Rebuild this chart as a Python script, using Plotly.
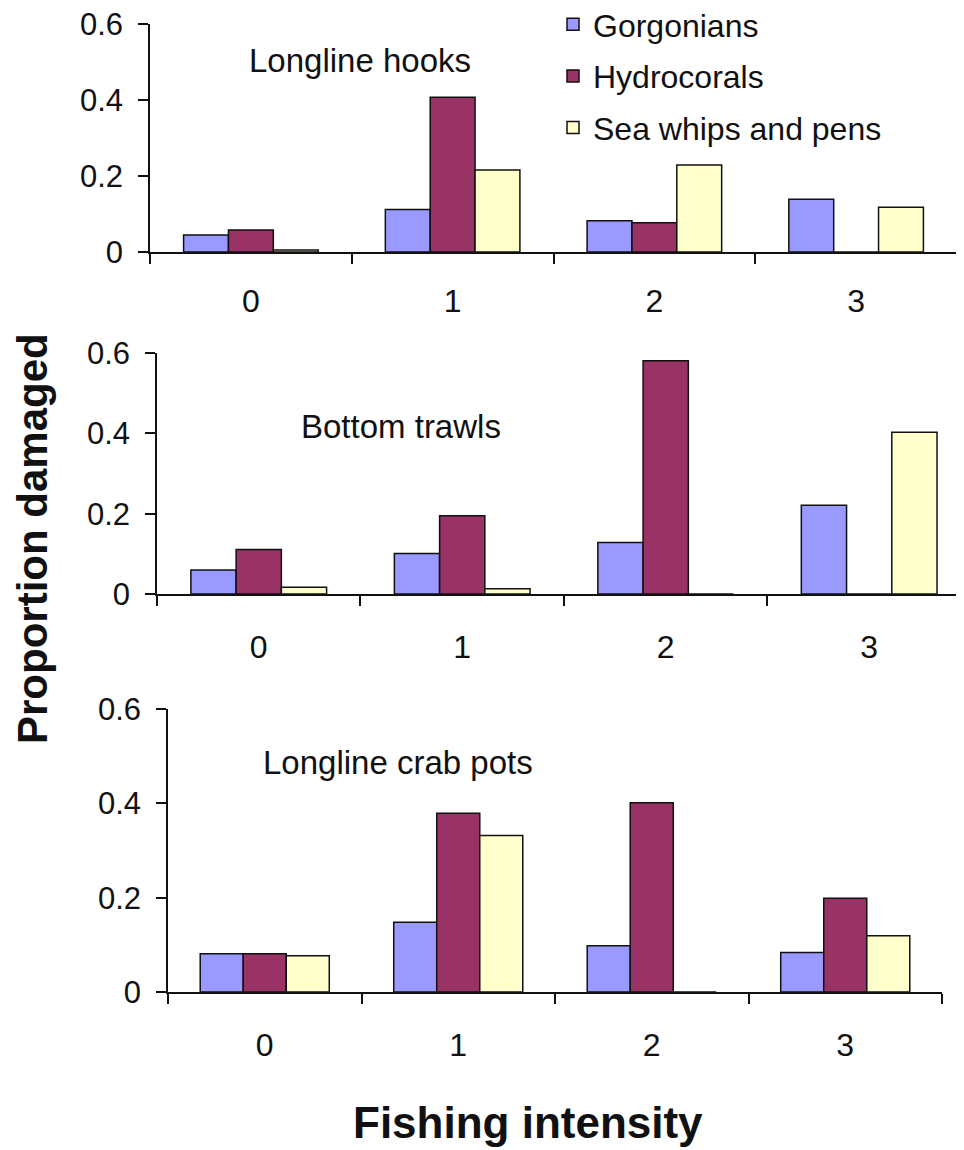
import plotly.graph_objects as go

# ---- data ----
categories = ["0", "1", "2", "3"]
series_names = ["Gorgonians", "Hydrocorals", "Sea whips and pens"]
panel_titles = ["Longline hooks", "Bottom trawls", "Longline crab pots"]

hooks_gorgonians = [0.045, 0.112, 0.082, 0.139]
hooks_hydrocorals = [0.058, 0.407, 0.077, 0.0]
hooks_seawhips = [0.005, 0.216, 0.229, 0.118]

trawl_gorgonians = [0.060, 0.101, 0.128, 0.221]
trawl_hydrocorals = [0.111, 0.195, 0.581, 0.0]
trawl_seawhips = [0.017, 0.013, 0.0, 0.403]

pots_gorgonians = [0.081, 0.148, 0.098, 0.084]
pots_hydrocorals = [0.081, 0.379, 0.401, 0.199]
pots_seawhips = [0.077, 0.332, 0.0, 0.119]

y_tickvals = [0, 0.2, 0.4, 0.6]
y_ticktext = ["0", "0.2", "0.4", "0.6"]

# ---- style ----
OFF = 8                       # browser body margin
W, H = 964 - OFF, 1150 - OFF  # figure size so it fits the window
colors = ["#9999FF", "#993366", "#FFFFCC"]
FONT = "Liberation Sans, Arial, sans-serif"
TXT = "#111111"


def fx(x):
    return (x - OFF) / W


def fy(y):
    return 1 - (y - OFF) / H


panels = [
    [hooks_gorgonians, hooks_hydrocorals, hooks_seawhips],
    [trawl_gorgonians, trawl_hydrocorals, trawl_seawhips],
    [pots_gorgonians, pots_hydrocorals, pots_seawhips],
]

# window-pixel layout of each panel: (x_left, x_right, y_top(0.6), y_bottom(0))
px = [
    (150, 957, 24, 252),
    (157, 964, 353, 594),
    (168, 942, 709, 992),
]
xranges = [[-0.5, 3.5], [-0.5, 3.466], [-0.5, 3.5]]
xstandoff = [20, 24, 24]
# panel label positions (data coords)
label_pos = [(0.54, 0.505), (0.70, 0.416), (0.69, 0.486)]

fig = go.Figure()
for p, vals in enumerate(panels):
    sfx = "" if p == 0 else str(p + 1)
    for s, name in enumerate(series_names):
        fig.add_trace(go.Bar(
            x=categories, y=vals[s], name=name,
            marker=dict(color=colors[s], line=dict(color="#111111", width=1.5)),
            xaxis="x" + sfx, yaxis="y" + sfx,
            legendgroup=name, showlegend=(p == 0),
        ))

layout = dict(
    width=W, height=H,
    margin=dict(l=0, r=0, t=0, b=0, autoexpand=False),
    paper_bgcolor="white", plot_bgcolor="white",
    barmode="group", bargap=0.333, bargroupgap=0,
    font=dict(family=FONT, color=TXT),
    legend=dict(
        x=fx(553), y=fy(-3), xanchor="left", yanchor="top",
        font=dict(size=32, family=FONT, color=TXT),
        bgcolor="rgba(0,0,0,0)", tracegroupgap=7,
    ),
    annotations=[],
)

for p in range(3):
    xl, xr, yt, yb = px[p]
    sfx = "" if p == 0 else str(p + 1)
    layout["xaxis" + sfx] = dict(
        domain=[fx(xl), min(1.0, fx(xr))], range=xranges[p], type="category",
        anchor="y" + sfx, showline=True, linecolor="#111111", linewidth=1.5,
        ticks="outside", tickson="boundaries", ticklen=10, tickwidth=1.5,
        tickcolor="#111111", showgrid=False, zeroline=False,
        tickfont=dict(size=32, family=FONT, color=TXT),
        ticklabelstandoff=xstandoff[p], ticklabeloverflow="allow",
        fixedrange=True,
    )
    layout["yaxis" + sfx] = dict(
        domain=[fy(yb), fy(yt)], range=[0, 0.6],
        anchor="x" + sfx, showline=True, linecolor="#111111", linewidth=1.5,
        ticks="outside", ticklen=10, tickwidth=1.5, tickcolor="#111111",
        tickvals=y_tickvals, ticktext=y_ticktext, showgrid=False, zeroline=False,
        tickfont=dict(size=31, family=FONT, color=TXT), ticklabelstandoff=9,
        ticklabeloverflow="allow", fixedrange=True,
    )
    lx, ly = label_pos[p]
    layout["annotations"].append(dict(
        x=lx, y=ly, xref="x" + sfx, yref="y" + sfx, text=panel_titles[p],
        showarrow=False, font=dict(size=33, family=FONT, color=TXT),
        xanchor="center", yanchor="middle",
    ))

layout["annotations"].append(dict(
    x=fx(32), y=fy(539), xref="paper", yref="paper",
    text="<b>Proportion damaged</b>", textangle=-90, showarrow=False,
    font=dict(size=42, family=FONT, color=TXT), xanchor="center", yanchor="middle",
))
layout["annotations"].append(dict(
    x=fx(528), y=fy(1122), xref="paper", yref="paper",
    text="<b>Fishing intensity</b>", showarrow=False,
    font=dict(size=44, family=FONT, color=TXT), xanchor="center", yanchor="middle",
))

fig.update_layout(**layout)
fig.write_html("out.html")
